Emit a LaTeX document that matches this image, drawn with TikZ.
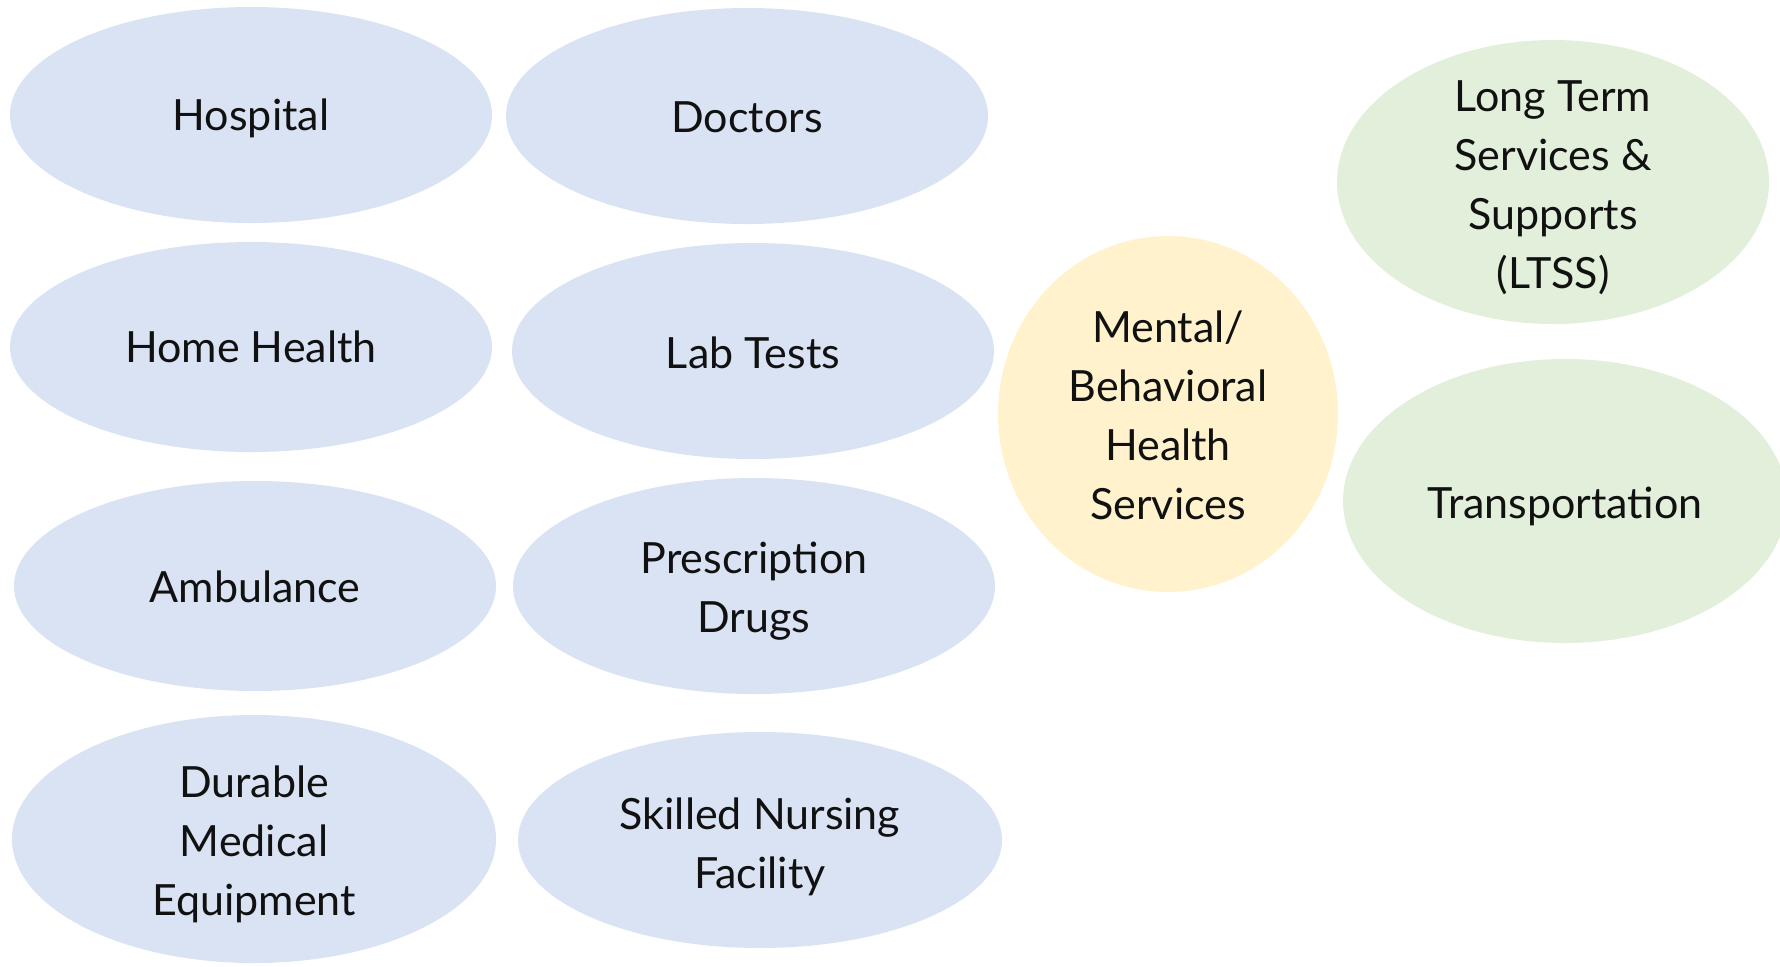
\documentclass[tikz,border=0pt]{standalone}
\usepackage{fontspec}
\setmainfont{Lato}
\usetikzlibrary{shapes.geometric}
\definecolor{bluefill}{HTML}{DAE3F3}
\definecolor{greenfill}{HTML}{E2EFDA}
\definecolor{yellowfill}{HTML}{FFF2CC}
\definecolor{txt}{HTML}{111111}
\tikzset{
  oval/.style n args={3}{ellipse, inner sep=0pt, fill=#1, draw=none,
     minimum width=#2*1pt, minimum height=#3*1pt},
  lbl/.style={text=txt, align=center, font=\fontsize{21.5}{29.5}\selectfont, inner sep=0pt}
}
\begin{document}
\begin{tikzpicture}[x=0.5pt,y=-0.5pt]
\useasboundingbox (0,0) rectangle (1780,966);
% ovals (sizes in px * 0.5pt)
\node[oval={bluefill}{241}{108}] (hosp) at (251,115) {};
\node[oval={bluefill}{241}{108}] (doc) at (747,116) {};
\node[oval={bluefill}{241}{105}] (home) at (251,347) {};
\node[oval={bluefill}{241}{108}] (lab) at (753,351) {};
\node[oval={bluefill}{241}{105}] (amb) at (255,586) {};
\node[oval={bluefill}{241}{108}] (rx) at (754,586) {};
\node[oval={bluefill}{242}{124}] (dme) at (254,839) {};
\node[oval={bluefill}{242}{108}] (snf) at (760,840) {};
\node[oval={yellowfill}{170}{178}] (mh) at (1168,414) {};
\node[oval={greenfill}{216}{142}] (ltss) at (1553,182) {};
\node[oval={greenfill}{222}{142}] (tr) at (1565,501) {};
% labels
\node[lbl] (hospt) at ([yshift=-1.7pt]hosp.center) {Hospital};
\node[lbl] (doct) at ([yshift=-0.6pt]doc.center) {Doctors};
\node[lbl] (homet) at (home.center) {Home Health};
\node[lbl] (labt) at ([yshift=-0.9pt]lab.center) {Lab Tests};
\node[lbl] (ambt) at ([yshift=-0.6pt]amb.center) {Ambulance};
\node[lbl] (rxt) at ([yshift=-2.8pt]rx.center) {Prescription\\Drugs};
\node[lbl] (dmet) at ([yshift=-2.8pt]dme.center) {Durable\\Medical\\Equipment};
\node[lbl] (snft) at ([yshift=-3.4pt]snf.center) {Skilled Nursing\\Facility};
\node[lbl] (mht) at ([yshift=-0.9pt]mh.center) {Mental/\\Behavioral\\Health\\Services};
\node[lbl] (ltsst) at ([yshift=-2.8pt]ltss.center) {Long Term\\Services \&\\Supports\\(LTSS)};
\node[lbl] (trt) at ([yshift=-2.8pt]tr.center) {Transportation};
\end{tikzpicture}
\end{document}
